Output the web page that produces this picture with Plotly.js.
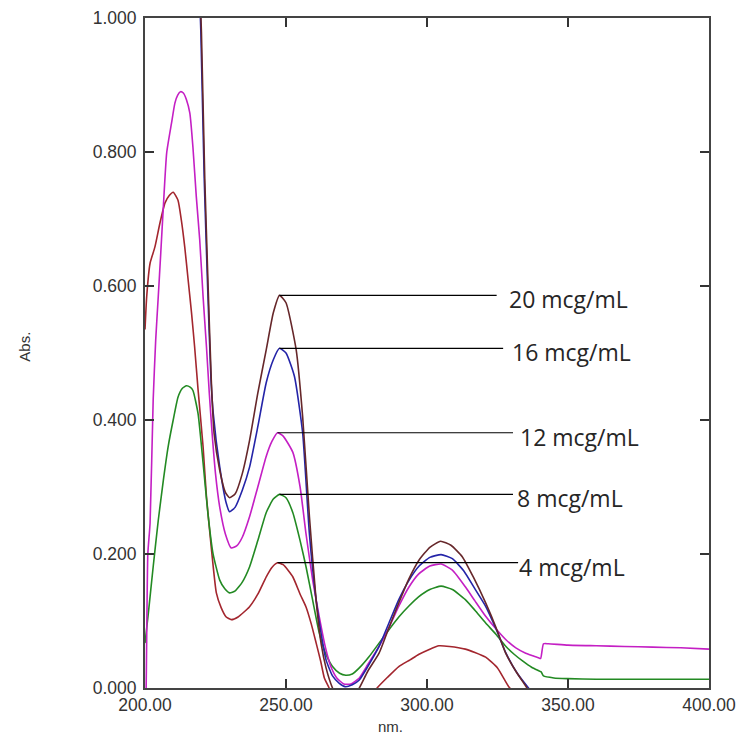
<!DOCTYPE html>
<html>
<head>
<meta charset="utf-8">
<script src="https://cdn.plot.ly/plotly-3.0.1.min.js"></script>
<style>
  html, body { margin: 0; padding: 0; background: #ffffff; }
  #chart { width: 737px; height: 742px; }
</style>
</head>
<body>
<div id="chart"></div>
<script>
// ---------------- DATA ----------------
const seriesNames = ["4 mcg/mL", "8 mcg/mL", "12 mcg/mL", "16 mcg/mL", "20 mcg/mL"];

// 4 mcg/mL (dark red)
const wl4 = [200, 200.6, 201.8, 203.5, 205.3, 207.1, 208.6, 210, 211.7, 212.9, 214.1, 215.3, 216.5, 217.6, 218.8, 220.6, 221.8, 223.5, 225.3, 227, 228.8, 230.6, 233, 237, 240, 243, 245, 247, 249, 252.4, 255, 257.1, 259, 260.7, 262.3, 263.6, 265.3, 268, 272, 276, 280, 282.3, 286, 290, 294, 297, 301, 304.2, 308, 313.6, 317, 320.8, 325, 329, 332, 340, 400];
const abs4 = [0.535, 0.584, 0.634, 0.658, 0.694, 0.724, 0.735, 0.74, 0.728, 0.698, 0.658, 0.609, 0.56, 0.509, 0.446, 0.36, 0.285, 0.21, 0.142, 0.12, 0.106, 0.102, 0.106, 0.121, 0.14, 0.166, 0.18, 0.187, 0.184, 0.166, 0.14, 0.121, 0.095, 0.067, 0.04, 0.015, 0.0, -0.03, -0.05, -0.045, -0.015, 0.0, 0.016, 0.032, 0.042, 0.05, 0.058, 0.063, 0.062, 0.058, 0.053, 0.046, 0.03, 0.002, -0.01, -0.03, -0.03];

// 8 mcg/mL (green)
const wl8 = [200, 201.2, 202.9, 204.7, 206.5, 208.2, 210, 211.7, 213.2, 214.7, 216, 217, 218.8, 220.6, 222.3, 224.1, 226.5, 228.3, 230, 232, 234.5, 237.1, 240, 243, 245.5, 247.7, 250, 252.4, 255, 257.1, 259.5, 261.8, 264, 266.5, 269, 271.2, 273.5, 276, 279.5, 283, 286.5, 290, 293.5, 297, 301, 305, 309, 313.6, 317, 320.8, 324.5, 328, 331, 334, 337.1, 339.5, 340.5, 341.3, 345, 350, 360, 380, 400];
const abs8 = [0.067, 0.112, 0.181, 0.25, 0.31, 0.36, 0.4, 0.434, 0.447, 0.451, 0.449, 0.444, 0.41, 0.336, 0.261, 0.201, 0.161, 0.148, 0.142, 0.145, 0.158, 0.181, 0.22, 0.262, 0.282, 0.289, 0.284, 0.262, 0.22, 0.181, 0.13, 0.082, 0.052, 0.032, 0.022, 0.019, 0.021, 0.03, 0.047, 0.067, 0.087, 0.106, 0.122, 0.136, 0.147, 0.152, 0.147, 0.132, 0.116, 0.097, 0.08, 0.062, 0.05, 0.04, 0.031, 0.026, 0.024, 0.018, 0.015, 0.014, 0.013, 0.013, 0.013];

// 12 mcg/mL (magenta)
const wl12 = [200, 200.4, 201.0, 201.8, 202.9, 203.8, 204.7, 205.6, 206.5, 207.7, 209.4, 210.6, 211.6, 212.6, 213.6, 214.7, 215.9, 217.0, 218.2, 219.4, 220.6, 221.8, 222.8, 223.8, 225, 226.5, 228.5, 230.6, 232.5, 234.5, 237.1, 240, 243, 245, 247, 249, 252.4, 255, 257.1, 259.5, 261.8, 264, 265.9, 268, 270.5, 273, 276, 279, 283, 286.5, 290, 293.5, 297, 301, 305, 309, 313.6, 317, 320.8, 324.5, 328, 331.5, 335, 337.5, 339.5, 340.3, 341.3, 343, 350, 360, 370, 380, 390, 400];
const abs12 = [-0.05, 0.0, 0.2, 0.246, 0.43, 0.52, 0.584, 0.65, 0.718, 0.799, 0.843, 0.873, 0.885, 0.89, 0.888, 0.878, 0.858, 0.807, 0.733, 0.669, 0.584, 0.509, 0.44, 0.38, 0.32, 0.27, 0.23, 0.209, 0.212, 0.225, 0.256, 0.3, 0.346, 0.368, 0.381, 0.376, 0.352, 0.3, 0.23, 0.16, 0.106, 0.06, 0.032, 0.015, 0.006, 0.006, 0.015, 0.035, 0.062, 0.09, 0.122, 0.15, 0.17, 0.182, 0.185, 0.176, 0.151, 0.13, 0.107, 0.088, 0.072, 0.06, 0.052, 0.048, 0.045, 0.044, 0.066, 0.066, 0.064, 0.063, 0.062, 0.061, 0.06, 0.058];

// 16 mcg/mL (blue)
const wl16 = [200, 210, 215, 218, 219.0, 219.8, 221.0, 222.2, 223.4, 224.2, 226.5, 228.8, 230, 232, 234.5, 237.1, 240, 243, 245.5, 247.7, 250, 253, 255.9, 258.3, 260.7, 262.5, 264.2, 266.5, 268.9, 271, 273.5, 276, 279, 283, 286.5, 290, 293.5, 297.2, 301, 305, 309, 313, 317, 320.8, 324.5, 328, 332, 336, 338, 345, 400];
const abs16 = [1.6, 1.6, 1.5, 1.25, 1.08, 0.98, 0.76, 0.6, 0.46, 0.41, 0.33, 0.276, 0.263, 0.27, 0.295, 0.33, 0.39, 0.456, 0.49, 0.507, 0.5, 0.465, 0.381, 0.23, 0.131, 0.08, 0.042, 0.018, 0.007, 0.002, 0.005, 0.012, 0.032, 0.062, 0.097, 0.132, 0.16, 0.182, 0.195, 0.199, 0.193, 0.175, 0.148, 0.122, 0.088, 0.052, 0.022, 0.0, -0.01, -0.03, -0.03];

// 20 mcg/mL (dark brown)
const wl20 = [200, 210, 215, 218, 219.2, 220, 221.2, 222.3, 223.5, 224.5, 226.5, 228.5, 230, 232, 234.5, 237.1, 240, 243, 245.5, 247.7, 250, 253.6, 255.9, 258.3, 260.7, 262.5, 264.2, 266.5, 268.5, 271, 273.5, 276, 279, 283, 286.5, 290, 293.5, 297.2, 301, 304.8, 308.5, 312.5, 316.5, 320.8, 324.5, 327.9, 331.5, 335, 337, 345, 400];
const abs20 = [1.6, 1.6, 1.5, 1.25, 1.08, 0.98, 0.76, 0.61, 0.46, 0.38, 0.325, 0.292, 0.284, 0.29, 0.32, 0.37, 0.44, 0.505, 0.56, 0.586, 0.575, 0.505, 0.405, 0.256, 0.13, 0.065, 0.03, 0.0, -0.015, -0.02, -0.015, 0.0, 0.025, 0.052, 0.09, 0.127, 0.162, 0.191, 0.21, 0.219, 0.213, 0.196, 0.165, 0.127, 0.09, 0.052, 0.025, 0.003, -0.01, -0.03, -0.03];

const xTickVals = [200, 250, 300, 350, 400];
const yTickVals = [0, 0.2, 0.4, 0.6, 0.8, 1.0];

// ---------------- STYLE / LAYOUT ----------------
const wlData = [wl4, wl8, wl12, wl16, wl20];
const absData = [abs4, abs8, abs12, abs16, abs20];
const colors = ["#a3262e", "#238a23", "#c41fc4", "#2424a8", "#66272a"];
// where each label's leader line ends and its text starts (data x units)
const leaderEnd = [332.3, 330.5, 330.5, 327.0, 324.7];
const textStart = [332.0, 331.2, 332.3, 329.6, 328.4];

const traces = wlData.map((wl, i) => ({
  type: "scatter", mode: "lines", name: seriesNames[i],
  x: wl, y: absData[i],
  line: { color: colors[i], width: 1.6, shape: "spline", smoothing: 0.5 },
  hoverinfo: "skip", showlegend: false
}));

// leader lines drawn at each series' second-band peak (≈248 nm)
const shapes = [];
const annotations = [];
wlData.forEach((wl, i) => {
  let best = -1e9, bx = 0;
  wl.forEach((w, k) => {
    if (w >= 240 && w <= 256 && absData[i][k] > best) { best = absData[i][k]; bx = w; }
  });
  shapes.push({ type: "line", xref: "x", yref: "y", x0: bx, x1: leaderEnd[i], y0: best, y1: best,
    line: { color: "#000000", width: 1.2 } });
  annotations.push({ xref: "x", yref: "y", x: textStart[i], y: best, text: seriesNames[i],
    showarrow: false, xanchor: "left", yanchor: "middle", yshift: -4,
    font: { family: "Open Sans, Noto Sans, sans-serif", size: 23, color: "#262626" } });
});

annotations.push({ xref: "paper", yref: "paper", x: -0.2139, y: 0.51, text: "Abs.", textangle: -90,
  showarrow: false, xanchor: "center", yanchor: "middle",
  font: { family: "Liberation Sans, Arial, sans-serif", size: 15, color: "#333333" } });
annotations.push({ xref: "paper", yref: "paper", x: 0.436, y: -0.058, text: "nm.",
  showarrow: false, xanchor: "center", yanchor: "middle",
  font: { family: "Liberation Sans, Arial, sans-serif", size: 15, color: "#333333" } });

const axisCommon = {
  showgrid: false, zeroline: false, showline: true, linecolor: "#444444", linewidth: 2,
  mirror: "ticks", ticks: "inside", ticklen: 9, tickwidth: 1.5, tickcolor: "#333333",
  ticklabeloverflow: "allow",
  tickfont: { family: "Liberation Sans, Arial, sans-serif", size: 17.5, color: "#333333" }
};

const layout = {
  width: 737, height: 742,
  margin: { l: 145, r: 28, t: 18, b: 54, pad: 0 },
  paper_bgcolor: "#ffffff", plot_bgcolor: "#ffffff",
  xaxis: Object.assign({}, axisCommon, { range: [200, 400], tickvals: xTickVals, tickformat: ".2f" }),
  yaxis: Object.assign({}, axisCommon, { range: [0, 1], tickvals: yTickVals, tickformat: ".3f", ticklabelstandoff: 3 }),
  shapes: shapes, annotations: annotations, showlegend: false
};

Plotly.newPlot("chart", traces, layout, { staticPlot: true, displayModeBar: false });
</script>
</body>
</html>
